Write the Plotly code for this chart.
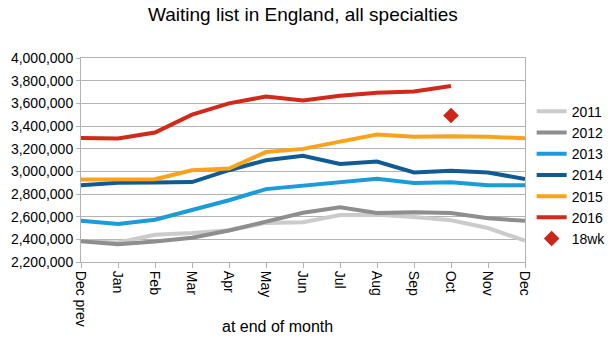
import plotly.graph_objects as go

months = ["Dec prev", "Jan", "Feb", "Mar", "Apr", "May", "Jun",
          "Jul", "Aug", "Sep", "Oct", "Nov", "Dec"]

y2011 = [2385000, 2372000, 2440000, 2455000, 2480000, 2545000, 2550000,
         2615000, 2617000, 2598000, 2568000, 2500000, 2388000]
y2012 = [2383000, 2357000, 2380000, 2414000, 2478000, 2557000, 2635000,
         2684000, 2633000, 2638000, 2633000, 2586000, 2563000]
y2013 = [2563000, 2535000, 2573000, 2660000, 2745000, 2843000, 2875000,
         2900000, 2934000, 2898000, 2903000, 2877000, 2877000]
y2014 = [2878000, 2900000, 2902000, 2905000, 3010000, 3098000, 3137000,
         3065000, 3086000, 2990000, 3005000, 2990000, 2932000]
y2015 = [2927000, 2925000, 2930000, 3010000, 3025000, 3170000, 3198000,
         3262000, 3325000, 3305000, 3310000, 3305000, 3292000]
y2016 = [3295000, 3290000, 3343000, 3500000, 3600000, 3660000, 3626000,
         3666000, 3694000, 3704000, 3753000]
wk18_month = ["Oct"]
wk18 = [3493000]

series = [
    ("2011", y2011, "#cbcbcb"),
    ("2012", y2012, "#8e8e8e"),
    ("2013", y2013, "#1b9bd7"),
    ("2014", y2014, "#115b95"),
    ("2015", y2015, "#f9a31d"),
    ("2016", y2016, "#d1291a"),
]

y_ticks = list(range(2200000, 4000001, 200000))

fig = go.Figure()
for name, vals, color in series:
    fig.add_trace(go.Scatter(
        x=months[:len(vals)], y=vals, name=name, mode="lines",
        line=dict(color=color, width=4),
    ))
fig.add_trace(go.Scatter(
    x=wk18_month, y=wk18, name="18wk", mode="markers",
    marker=dict(symbol="diamond", color="#cc2618", size=12),
))

font = "Liberation Sans, Arial, Helvetica, sans-serif"
fig.update_layout(
    width=611, height=343,
    margin=dict(l=81, r=86, t=58, b=81, autoexpand=False),
    paper_bgcolor="white", plot_bgcolor="white",
    font=dict(family=font, size=14, color="black"),
    showlegend=True,
    legend=dict(x=1.015, xanchor="left", y=0.815, yanchor="top",
                font=dict(size=14), bgcolor="rgba(0,0,0,0)",
                itemwidth=30, tracegroupgap=0),
    xaxis=dict(
        type="category", categoryorder="array", categoryarray=months,
        range=[0, 12], tickangle=90, showgrid=False,
        showline=True, linecolor="#b3b3b3", linewidth=1, mirror=True,
        ticks="outside", ticklen=5, tickcolor="#b3b3b3",
        tickfont=dict(size=14), zeroline=False,
    ),
    yaxis=dict(
        range=[2200000, 4000000], tickvals=y_ticks,
        tickformat=",d", showgrid=True, gridcolor="#b3b3b3", gridwidth=1,
        showline=True, linecolor="#b3b3b3", linewidth=1, mirror=True,
        ticks="outside", ticklen=4, tickcolor="#b3b3b3",
        tickfont=dict(size=14), zeroline=False,
    ),
    annotations=[
        dict(text="Waiting list in England, all specialties",
             xref="paper", yref="paper", x=0.5, y=1.0, yshift=44,
             xanchor="center", yanchor="middle", showarrow=False,
             font=dict(size=19)),
        dict(text="at end of month", xref="paper", yref="paper",
             x=0.442, y=0, yshift=-64, xanchor="center", yanchor="middle",
             showarrow=False, font=dict(size=16)),
    ],
)

fig.write_html("out.html")
